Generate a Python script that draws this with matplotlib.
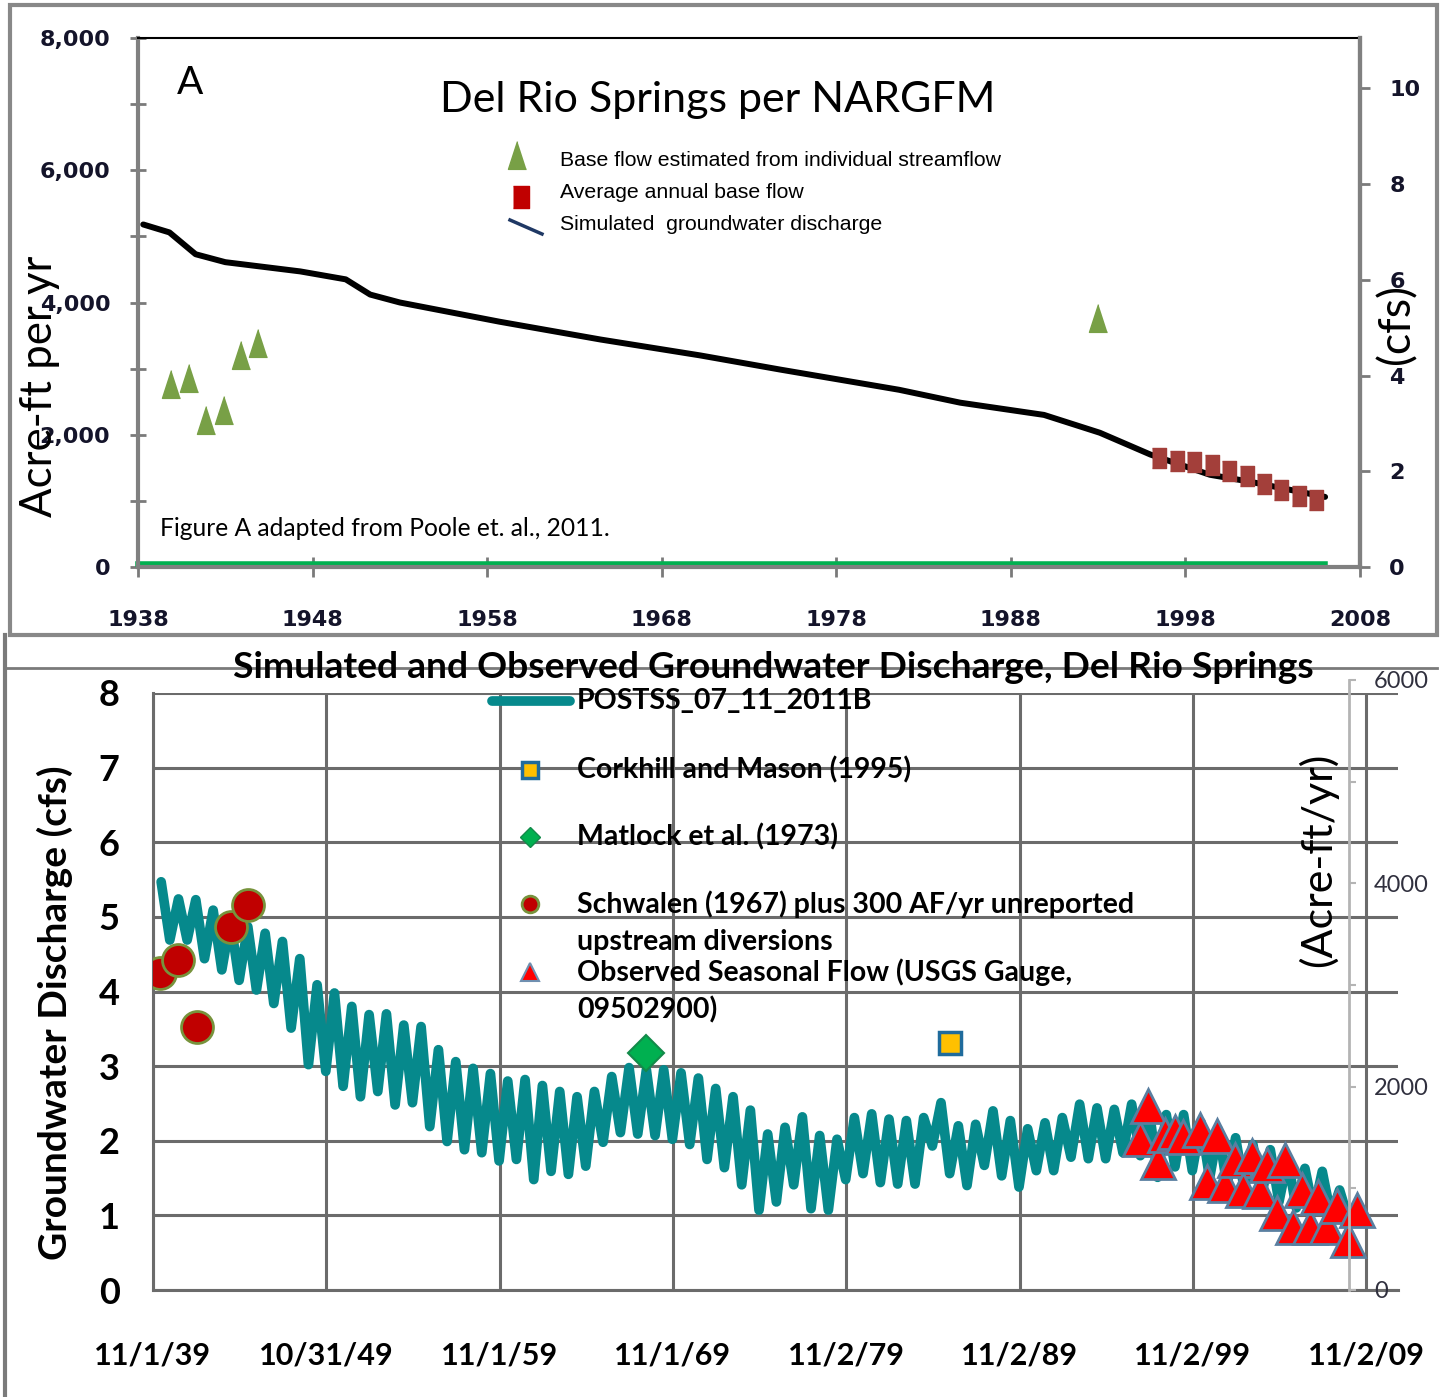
import matplotlib
matplotlib.use("Agg")
import matplotlib.pyplot as plt
from matplotlib.lines import Line2D

W, H = 1443, 1397

# ---------------- panel A data (acre-ft per yr) ----------------
sim_years = [1938.3, 1939.8, 1941.3, 1943.0, 1947.3, 1949.9, 1951.3, 1953.0, 1958.7,
             1964.5, 1970.2, 1974.8, 1981.6, 1985.1, 1989.9, 1993.1, 1996.0, 1999.4,
             2001.7, 2006.0]
sim_af = [5180, 5060, 4730, 4610, 4470, 4350, 4120, 4000, 3710,
          3440, 3200, 2985, 2680, 2485, 2300, 2030, 1700, 1395,
          1290, 1060]

base_years = [1939.9, 1940.9, 1941.9, 1942.9, 1943.9, 1944.9, 1993.0]
base_af = [2760, 2860, 2230, 2380, 3200, 3390, 3770]

avg_years = [1996.5, 1997.5, 1998.5, 1999.5, 2000.5, 2001.5, 2002.5, 2003.5, 2004.5, 2005.5]
avg_af = [1650, 1605, 1590, 1545, 1455, 1380, 1260, 1165, 1075, 1015]

zero_years = [1938, 2006]
zero_af = [40, 40]

top_xticks = [1938, 1948, 1958, 1968, 1978, 1988, 1998, 2008]
top_yticks = [0, 2000, 4000, 6000, 8000]
cfs_ticks = [0, 2, 4, 6, 8, 10]

# ---------------- panel B data (cfs) ----------------
flow_years = list(range(1940, 2009))
flow_peak = [5.47, 5.24, 5.23, 5.09, 4.95, 4.87, 4.78, 4.67, 4.44, 4.09,
             3.98, 3.80, 3.69, 3.70, 3.55, 3.53, 3.22, 3.06, 2.97, 2.90,
             2.80, 2.82, 2.74, 2.66, 2.59, 2.66, 2.86, 2.98, 2.95, 2.95,
             2.91, 2.84, 2.70, 2.59, 2.41, 2.09, 2.18, 2.32, 2.07, 2.02,
             2.31, 2.36, 2.29, 2.27, 2.31, 2.51, 2.20, 2.22, 2.40, 2.27,
             2.16, 2.24, 2.31, 2.49, 2.44, 2.42, 2.49, 2.45, 2.35, 2.35,
             2.25, 2.15, 2.04, 1.95, 1.88, 1.75, 1.63, 1.59, 1.34]
flow_trough = [4.69, 4.69, 4.44, 4.29, 4.15, 4.02, 3.84, 3.51, 3.02, 2.93,
               2.73, 2.59, 2.66, 2.48, 2.51, 2.19, 1.99, 1.88, 1.84, 1.73,
               1.75, 1.48, 1.59, 1.55, 1.66, 1.98, 2.11, 2.09, 2.07, 2.02,
               1.95, 1.75, 1.64, 1.41, 1.07, 1.18, 1.41, 1.09, 1.07, 1.48,
               1.56, 1.44, 1.42, 1.42, 1.93, 1.56, 1.40, 1.67, 1.53, 1.38,
               1.60, 1.60, 1.78, 1.76, 1.76, 1.84, 1.80, 1.51, 1.65, 1.60,
               1.50, 1.40, 1.35, 1.25, 1.18, 1.10, 1.05, 1.00, 0.95]

schwalen_years = [1940.23, 1941.29, 1942.35, 1944.33, 1945.29]
schwalen_cfs = [4.25, 4.42, 3.53, 4.86, 5.16]

matlock_years = [1968.28]
matlock_cfs = [3.17]

corkhill_years = [1985.82]
corkhill_cfs = [3.31]

usgs_years = [1996.78, 1997.26, 1997.84, 1998.23, 1998.80, 1999.26, 2000.25, 2000.63,
              2001.21, 2001.69, 2002.27, 2002.73, 2003.23, 2003.71, 2004.09, 2004.67,
              2005.15, 2005.61, 2006.11, 2006.59, 2007.07, 2007.56, 2008.17, 2008.80,
              2009.28]
usgs_cfs = [2.03, 2.46, 1.72, 2.08, 2.12, 2.05, 2.14, 1.45,
            2.06, 1.41, 1.74, 1.34, 1.79, 1.32, 1.68, 1.03,
            1.74, 0.85, 1.34, 0.85, 1.25, 0.85, 1.12, 0.67,
            1.07]

bot_xticks = [1939.83, 1949.83, 1959.83, 1969.83, 1979.83, 1989.83, 1999.83, 2009.83]
bot_xlabels = ["11/1/39", "10/31/49", "11/1/59", "11/1/69", "11/2/79", "11/2/89",
               "11/2/99", "11/2/09"]
bot_yticks = [0, 1, 2, 3, 4, 5, 6, 7, 8]
af_ticks = [0, 2000, 4000, 6000]

legend_top = ["Base flow estimated from individual streamflow",
              "Average annual base flow",
              "Simulated  groundwater discharge"]
legend_bot = ["POSTSS_07_11_2011B",
              "Corkhill and Mason (1995)",
              "Matlock et al. (1973)",
              "Schwalen (1967) plus 300 AF/yr unreported\nupstream diversions",
              "Observed Seasonal Flow (USGS Gauge,\n09502900)"]

CAL = ["Lato", "DejaVu Sans"]
GILL = ["Lato", "DejaVu Sans"]
TAH = ["DejaVu Sans"]

tall_tri = [(0, 1), (-0.65, -1), (0.65, -1)]
tall_rect = [(-0.7, -1), (0.7, -1), (0.7, 1), (-0.7, 1)]


def fx(x):
    return x / W


def fy(y):
    return 1 - y / H


fig = plt.figure(figsize=(W / 100, H / 100), dpi=100)

# ================= panel A =================
ax1 = fig.add_axes([fx(138), fy(567), 1222 / W, 529 / H])
ax1.set_xlim(1938, 2008)
ax1.set_ylim(0, 8000)
ax1.plot(zero_years, zero_af, color="#00B050", lw=4, zorder=2, clip_on=False)
ax1.plot(sim_years, sim_af, color="black", lw=4.3, solid_capstyle="round", zorder=3)
ax1.plot(base_years, base_af, ls="none", marker=tall_tri, ms=20, color="#78A046", zorder=4)
ax1.plot(avg_years, avg_af, ls="none", marker=tall_rect, ms=14.5, color="#A33F3A", zorder=5)

ax1.set_xticks(top_xticks)
ax1.set_yticks(top_yticks)
ax1.set_yticks([1000, 3000, 5000, 7000], minor=True)
ax1.set_yticklabels(["{:,}".format(v) for v in top_yticks])
for lab in ax1.get_xticklabels() + ax1.get_yticklabels():
    lab.set_fontfamily(TAH)
    lab.set_fontweight("bold")
    lab.set_color("#14142a")
ax1.tick_params(axis="x", direction="inout", length=14, width=2, color="#7a7a7a",
                labelsize=16, pad=24)
ax1.tick_params(axis="y", which="both", direction="inout", length=12, width=2,
                color="#7a7a7a", labelsize=16, pad=14)
for s in ["left", "bottom", "right"]:
    ax1.spines[s].set_color("#808080")
    ax1.spines[s].set_linewidth(3)
ax1.spines["top"].set_color("black")
ax1.spines["top"].set_linewidth(1.5)

axr = ax1.twinx()
axr.set_ylim(0, 8000 / 724.0)
axr.set_yticks(cfs_ticks)
for lab in axr.get_yticklabels():
    lab.set_fontfamily(TAH)
    lab.set_fontweight("bold")
    lab.set_color("#14142a")
axr.tick_params(axis="y", direction="out", length=7, width=2, color="#7a7a7a",
                labelsize=16, pad=14)
for s in ["left", "bottom", "top"]:
    axr.spines[s].set_visible(False)
axr.spines["right"].set_color("#808080")
axr.spines["right"].set_linewidth(3)

fig.text(fx(40), fy(386), "Acre-ft per yr", rotation=90, fontsize=31.5, family=CAL,
         ha="center", va="center")
fig.text(fx(1397), fy(324), "(cfs)", rotation=90, fontsize=32, family=CAL,
         ha="center", va="center")
fig.text(fx(190), fy(83), "A", fontsize=28, family=CAL, ha="center", va="center")
fig.text(fx(718), fy(100), "Del Rio Springs per NARGFM", fontsize=31, family=CAL,
         ha="center", va="center")
fig.text(fx(160), fy(528), "Figure A adapted from Poole et. al., 2011.", fontsize=17.7,
         family=CAL, ha="left", va="center")

# legend of panel A
fig.add_artist(Line2D([fx(517)], [fy(155)], ls="none", marker=tall_tri, ms=20,
                      color="#78A046"))
fig.add_artist(Line2D([fx(521)], [fy(197)], ls="none", marker=tall_rect, ms=16,
                      color="#C00000"))
fig.add_artist(Line2D([fx(510), fx(542)], [fy(220), fy(234)], color="#1F3864", lw=2.5))
for lab, yy in zip(legend_top, [161, 193, 225]):
    fig.text(fx(560), fy(yy), lab, fontsize=15.3, family="Liberation Sans",
             ha="left", va="center")

# frame of panel A
fig.add_artist(plt.Rectangle((fx(10), fy(635)), 1427 / W, 630 / H, fill=False,
                             ec="#888888", lw=3, transform=fig.transFigure))

# ================= panel B =================
ax2 = fig.add_axes([fx(153), fy(1290), 1245 / W, 597 / H])
ax2.set_xlim(1939.83, 2011.67)
ax2.set_ylim(0, 8)
ax2.grid(True, color="#6b6b6b", lw=2.2)
ax2.set_axisbelow(True)

flow_t = []
flow_v = []
for yr, p, tr in zip(flow_years, flow_peak, flow_trough):
    flow_t += [yr + 0.3, yr + 0.8]
    flow_v += [p, tr]
ax2.plot(flow_t, flow_v, color="#06898C", lw=7, solid_joinstyle="round",
         solid_capstyle="round", zorder=3)
ax2.plot(schwalen_years, schwalen_cfs, ls="none", marker="o", ms=23, mfc="#C00000",
         mec="#77933C", mew=2, zorder=4)
ax2.plot(matlock_years, matlock_cfs, ls="none", marker="D", ms=18, mfc="#00B050",
         mec="#138A4A", mew=1.5, zorder=4)
ax2.plot(corkhill_years, corkhill_cfs, ls="none", marker="s", ms=16, mfc="#FFC000",
         mec="#1F6B9C", mew=2.5, zorder=4)
ax2.plot(usgs_years, usgs_cfs, ls="none", marker="^", ms=24, mfc="#FF0000",
         mec="#5A7FA0", mew=2, zorder=5, clip_on=False)

ax2.set_xticks(bot_xticks)
ax2.set_xticklabels(bot_xlabels)
ax2.set_yticks(bot_yticks)
for lab in ax2.get_xticklabels() + ax2.get_yticklabels():
    lab.set_fontfamily(GILL)
    lab.set_fontweight("bold")
ax2.tick_params(axis="x", length=0, labelsize=22, pad=37)
ax2.tick_params(axis="y", length=0, labelsize=26, pad=24)
for s in ["top", "right"]:
    ax2.spines[s].set_visible(False)
for s in ["left", "bottom"]:
    ax2.spines[s].set_color("#6b6b6b")
    ax2.spines[s].set_linewidth(2.2)

# secondary acre-ft axis
ax3 = fig.add_axes([fx(1349), fy(1290), 0.0001, 610 / H])
ax3.set_ylim(0, 6000)
ax3.patch.set_visible(False)
ax3.set_xticks([])
for s in ["left", "top", "bottom"]:
    ax3.spines[s].set_visible(False)
ax3.spines["right"].set_color("#b4b4b4")
ax3.spines["right"].set_linewidth(2)
ax3.yaxis.tick_right()
ax3.set_yticks(af_ticks)
ax3.set_yticks([1000, 3000, 5000], minor=True)
ax3.tick_params(axis="y", which="both", length=5, width=1.5, color="#b4b4b4",
                labelsize=17, pad=13, labelcolor="#30303e")
for lab in ax3.get_yticklabels():
    lab.set_fontfamily(CAL)

fig.text(fx(1318), fy(860), "(Acre-ft/yr)", rotation=90, fontsize=31, family=CAL,
         ha="center", va="center")
fig.text(fx(55), fy(1013), "Groundwater Discharge (cfs)", rotation=90, fontsize=28,
         family=GILL, fontweight="bold", ha="center", va="center")
fig.text(fx(773), fy(668), "Simulated and Observed Groundwater Discharge, Del Rio Springs",
         fontsize=26.8, family=GILL, fontweight="bold", ha="center", va="center")

# legend of panel B
fig.add_artist(Line2D([fx(492), fx(570)], [fy(701), fy(701)], color="#06898C", lw=7,
                      solid_capstyle="round"))
fig.add_artist(Line2D([fx(530)], [fy(770)], ls="none", marker="s", ms=11, mfc="#FFC000",
                      mec="#1F6B9C", mew=2.5))
fig.add_artist(Line2D([fx(530)], [fy(837)], ls="none", marker="D", ms=10, mfc="#00B050",
                      mec="#138A4A", mew=1))
fig.add_artist(Line2D([fx(530)], [fy(904)], ls="none", marker="o", ms=12, mfc="#C00000",
                      mec="#77933C", mew=2))
fig.add_artist(Line2D([fx(530)], [fy(972)], ls="none", marker="^", ms=13, mfc="#FF0000",
                      mec="#6F8FB0", mew=1.5))
for lab, yy in zip(legend_bot, [701, 770, 837, 904, 972]):
    for i, line in enumerate(lab.split("\n")):
        fig.text(fx(577), fy(yy + 38 * i), line, fontsize=20.5, family=GILL,
                 fontweight="bold", ha="left", va="center")

# frame lines of panel B
fig.add_artist(Line2D([fx(5), fx(1437)], [fy(668), fy(668)], color="#7a7a7a", lw=2))
fig.add_artist(Line2D([fx(5), fx(5)], [fy(635), fy(1397)], color="#7a7a7a", lw=3))

fig.savefig("out.png", dpi=100)
